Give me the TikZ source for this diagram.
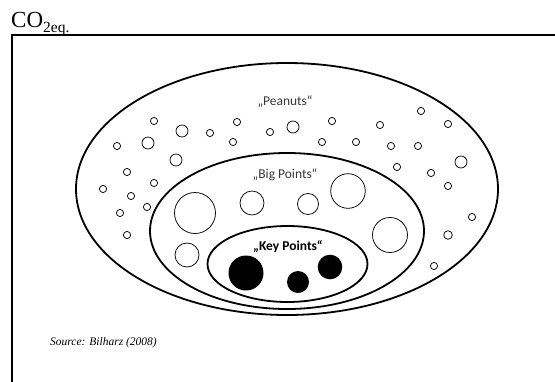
\documentclass[tikz,border=0pt]{standalone}
\usepackage{fontspec}
\setmainfont{Liberation Serif}
\newfontfamily\calibri{Carlito}
\begin{document}
\begin{tikzpicture}[x=1pt,y=-1pt,
  ring/.style={draw=black, line width=1.8pt},
  dot/.style={draw=black, line width=0.75pt, fill=white},
  keydot/.style={fill=black},
  lbl/.style={font=\calibri\fontsize{13.5}{15}\selectfont, text=black!78, inner sep=0pt},
  framestyle/.style={draw=black, line width=1.7pt}
]
\useasboundingbox (0,0) rectangle (555,381);
\clip (0,0) rectangle (555,381);
% frame
\coordinate (fbl) at (12,385);
\coordinate (ftl) at (12,35);
\coordinate (ftr) at (560,35);
\draw[framestyle] (fbl) -- (ftl) -- (ftr);
% heading fragment
\node[anchor=base west, inner sep=0pt, font=\fontsize{23}{26}\selectfont] (co) at (11,27)
  {CO\raisebox{-5.5pt}{\fontsize{15.5}{17}\selectfont 2eq.}};
% ellipses
\draw[ring] (287,189) ellipse [x radius=211, y radius=126];
\draw[ring] (287,231) ellipse [x radius=137, y radius=78];
\draw[ring] (287.5,264) ellipse [x radius=80, y radius=38];
% peanuts small
\foreach \p in {(154,121),(210,133),(237,122),(270,132),(332,121),(380,125),(421,111),(448,124),
  (117,146),(233,142),(322,142),(356,142),(391,146),(418,146),(397,167),(431,173),(448,186),
  (127,172),(154,183),(103,189),(131,196),(147,207),(120,213),(472,217),(127,235),(434,266)}
  \draw[dot] \p circle [radius=3.6];
\draw[dot] (448,235) circle [radius=4.3];
% peanuts medium
\foreach \p in {(182,131),(293,127),(148,143),(176,160),(461,162)}
  \draw[dot] \p circle [radius=6];
% big points
\draw[dot] (195,213) circle [radius=20.5];
\draw[dot] (252,203) circle [radius=12];
\draw[dot] (308,204) circle [radius=10.5];
\draw[dot] (348,191) circle [radius=17.3];
\draw[dot] (390,235) circle [radius=17.5];
\draw[dot] (187,255) circle [radius=12];
% key points
\fill[keydot] (246,273) circle [radius=17.5];
\fill[keydot] (298,282) circle [radius=11];
\fill[keydot] (330,267) circle [radius=12.3];
% labels
\node[lbl] (peanuts) at (285,102) {„Peanuts“};
\node[lbl] (bigpoints) at (285,175) {„Big Points“};
\node[lbl, text=black, font=\calibri\bfseries\fontsize{13.5}{15}\selectfont] (keypoints) at (288,247) {„Key Points“};
\node[anchor=west, inner sep=0pt, font=\itshape\fontsize{11.5}{13}\selectfont] (src) at (50,343) {Source: Bilharz (2008)};
\end{tikzpicture}
\end{document}
